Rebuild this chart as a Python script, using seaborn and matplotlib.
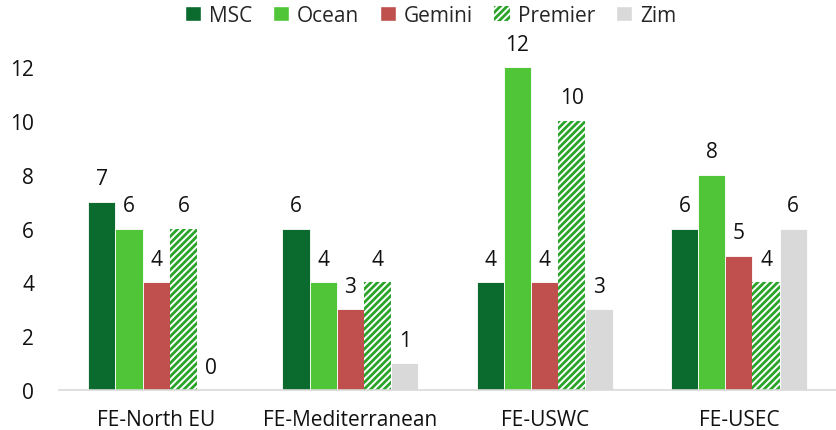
import pandas as pd
import seaborn as sns
from matplotlib import pyplot as plt
from matplotlib.patches import Patch

routes = ['FE-North EU', 'FE-Mediterranean', 'FE-USWC', 'FE-USEC']
carriers = ['MSC', 'Ocean', 'Gemini', 'Premier', 'Zim']
msc = [7, 6, 4, 6]
ocean = [6, 4, 12, 8]
gemini = [4, 3, 4, 5]
premier = [6, 4, 10, 4]
zim = [0, 1, 3, 6]

colors = {'MSC': '#0b6b2e', 'Ocean': '#4fc537', 'Gemini': '#c0504d',
          'Premier': '#ffffff', 'Zim': '#d9d9d9'}
hatch_green = '#2aa52a'

# long form table for seaborn
rows = []
for name, vals in zip(carriers, [msc, ocean, gemini, premier, zim]):
    for r, v in zip(routes, vals):
        rows.append({'route': r, 'carrier': name, 'services': v})
df = pd.DataFrame(rows)

sns.set_style('white')
plt.rcParams['font.family'] = ['Open Sans', 'DejaVu Sans']
plt.rcParams['hatch.linewidth'] = 2.0

fig = plt.figure(figsize=(8.36, 4.31), dpi=100)
ax = fig.add_axes([0.0706, 0.0928, 0.9294, 0.8738])

sns.barplot(data=df, x='route', y='services', hue='carrier', hue_order=carriers,
            palette=colors, saturation=1, width=0.7, ax=ax, legend=False,
            edgecolor='white', linewidth=0.6)

# Premier gets green stripes on white
for bar in ax.containers[3]:
    bar.set_hatch('/////')
    bar.set_edgecolor(hatch_green)
    bar.set_linewidth(0)

for cont in ax.containers:
    ax.bar_label(cont, fmt='%d', padding=9, fontsize=15, color='#111111')

ax.set_ylim(0, 14)
ax.set_xlim(-0.5, 3.5)
ax.set_yticks(range(0, 13, 2))
ax.set_xlabel('')
ax.set_ylabel('')
ax.tick_params(axis='both', labelsize=15, length=0, colors='#111111')
ax.tick_params(axis='y', pad=18)
ax.tick_params(axis='x', pad=14)
for s in ['left', 'right', 'top']:
    ax.spines[s].set_visible(False)
ax.spines['bottom'].set_color('#d9d9d9')
ax.spines['bottom'].set_linewidth(1.2)

handles = []
for c in carriers:
    if c == 'Premier':
        handles.append(Patch(facecolor='white', edgecolor=hatch_green, hatch='/////', linewidth=0, label=c))
    else:
        handles.append(Patch(facecolor=colors[c], label=c))
fig.legend(handles=handles, loc='upper center', bbox_to_anchor=(0.515, 1.03), ncol=5,
           frameon=False, fontsize=15, handlelength=0.75, handleheight=0.75,
           handletextpad=0.4, columnspacing=1.0)

plt.savefig('out.png', dpi=100)
